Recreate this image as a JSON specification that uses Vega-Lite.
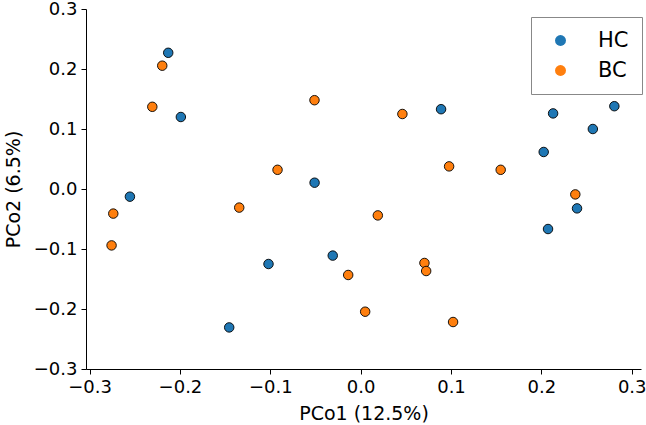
{
  "$schema": "https://vega.github.io/schema/vega-lite/v6.json",
  "width": 555,
  "height": 360,
  "autosize": "none",
  "padding": {"left": 86, "top": 9, "right": 5, "bottom": 56},
  "background": "white",
  "config": {
    "view": {"stroke": null},
    "font": "DejaVu Sans",
    "axis": {
      "grid": false,
      "domainColor": "black",
      "domainWidth": 1,
      "tickColor": "black",
      "tickWidth": 1,
      "tickSize": 5,
      "labelColor": "black",
      "labelFont": "DejaVu Sans",
      "labelFontSize": 18,
      "titleFont": "DejaVu Sans",
      "titleFontSize": 19,
      "titleFontWeight": "normal",
      "titleColor": "black",
      "labelPadding": 4
    }
  },
  "data": {
    "values": [
      {"x": -0.213, "y": 0.227, "group": "HC"},
      {"x": -0.199, "y": 0.120, "group": "HC"},
      {"x": -0.051, "y": 0.0105, "group": "HC"},
      {"x": -0.2554, "y": -0.0128, "group": "HC"},
      {"x": -0.102, "y": -0.125, "group": "HC"},
      {"x": -0.1455, "y": -0.2307, "group": "HC"},
      {"x": -0.0309, "y": -0.111, "group": "HC"},
      {"x": 0.089, "y": 0.133, "group": "HC"},
      {"x": 0.213, "y": 0.126, "group": "HC"},
      {"x": 0.2808, "y": 0.138, "group": "HC"},
      {"x": 0.257, "y": 0.100, "group": "HC"},
      {"x": 0.2026, "y": 0.0617, "group": "HC"},
      {"x": 0.2395, "y": -0.0323, "group": "HC"},
      {"x": 0.2074, "y": -0.0667, "group": "HC"},
      {"x": -0.2196, "y": 0.2055, "group": "BC"},
      {"x": -0.2306, "y": 0.137, "group": "BC"},
      {"x": -0.0511, "y": 0.148, "group": "BC"},
      {"x": -0.092, "y": 0.032, "group": "BC"},
      {"x": -0.2738, "y": -0.041, "group": "BC"},
      {"x": -0.1344, "y": -0.031, "group": "BC"},
      {"x": -0.2757, "y": -0.094, "group": "BC"},
      {"x": 0.0462, "y": 0.125, "group": "BC"},
      {"x": 0.0979, "y": 0.0377, "group": "BC"},
      {"x": 0.155, "y": 0.032, "group": "BC"},
      {"x": 0.2376, "y": -0.009, "group": "BC"},
      {"x": 0.019, "y": -0.044, "group": "BC"},
      {"x": -0.0138, "y": -0.1433, "group": "BC"},
      {"x": 0.0706, "y": -0.1233, "group": "BC"},
      {"x": 0.0725, "y": -0.1367, "group": "BC"},
      {"x": 0.005, "y": -0.2045, "group": "BC"},
      {"x": 0.1023, "y": -0.2217, "group": "BC"}
    ]
  },
  "mark": {"type": "point", "filled": true, "shape": "circle", "size": 90, "stroke": "black", "strokeWidth": 0.9, "opacity": 1},
  "encoding": {
    "x": {
      "field": "x", "type": "quantitative",
      "title": "PCo1 (12.5%)",
      "scale": {"domain": [-0.304, 0.3103], "nice": false, "zero": false},
      "axis": {"values": [-0.3, -0.2, -0.1, 0.0, 0.1, 0.2, 0.3], "format": ".1f", "labelExpr": "replace(datum.label, '-', '\u2212')", "titlePadding": 8}
    },
    "y": {
      "field": "y", "type": "quantitative",
      "title": "PCo2 (6.5%)",
      "scale": {"domain": [-0.3, 0.3], "nice": false, "zero": false},
      "axis": {"values": [-0.3, -0.2, -0.1, 0.0, 0.1, 0.2, 0.3], "format": ".1f", "labelExpr": "replace(datum.label, '-', '\u2212')", "titlePadding": 10}
    },
    "color": {
      "field": "group", "type": "nominal",
      "scale": {"domain": ["HC", "BC"], "range": ["#1f77b4", "#ff7f0e"]},
      "legend": {
        "title": null,
        "orient": "none",
        "legendX": 445,
        "legendY": 8,
        "padding": 13,
        "strokeColor": "#888888",
        "fillColor": "white",
        "symbolType": "circle",
        "symbolSize": 120,
        "symbolStrokeWidth": 0,
        "symbolOffset": 6,
        "labelFontSize": 21,
        "labelFont": "DejaVu Sans",
        "labelColor": "black",
        "labelOffset": 27,
        "rowPadding": 8
      }
    }
  }
}
